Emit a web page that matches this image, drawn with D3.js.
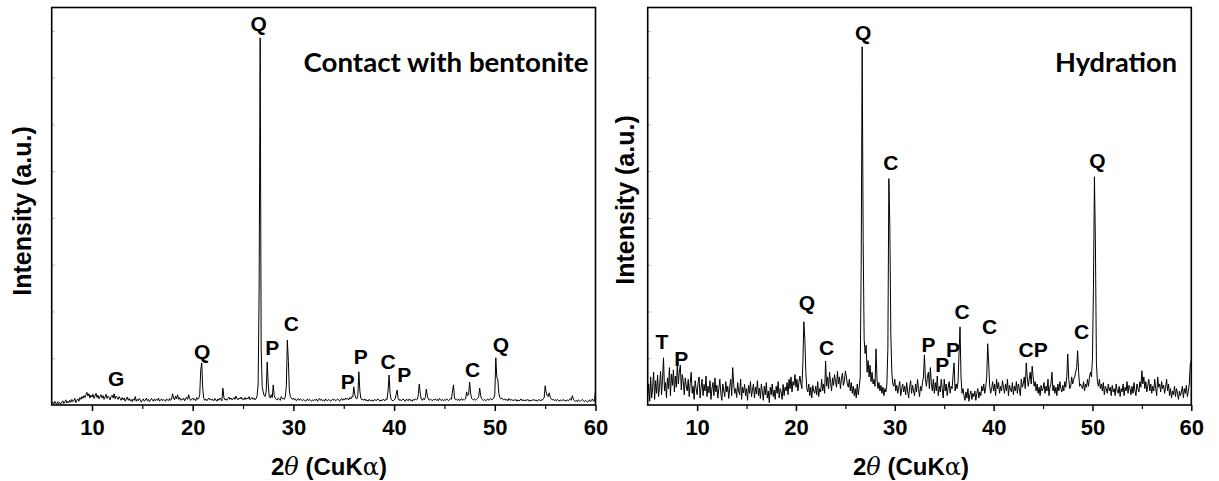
<!DOCTYPE html>
<html lang="en">

<head>
    <meta charset="UTF-8">
    <title>XRD patterns</title>
    <script src="https://d3js.org/d3.v7.min.js"></script>
    <style>
        body { margin: 0; background: #fff; }
        svg { display: block; }
    </style>
</head>

<body>
    <svg id="chart" width="1219" height="481"></svg>

    <script>
        // x axis ticks (2theta, degrees)
        var majorTicks = [10, 20, 30, 40, 50, 60];
        var minorTicks = [15, 25, 35, 45, 55];
        var stepDeg = 0.1;

        // "Contact with bentonite" pattern, 6.0 .. 60.0 deg, one value per 0.1 deg
        var bentoniteStart = 6;
        var bentoniteI = [
            3, 6, 2, 8, 4, 1, 7, 3, 5, 2,          // 6
            6, 9, 3, 7, 11, 4, 8, 5, 10, 6,        // 7
            12, 7, 9, 14, 5, 10, 13, 8, 16, 12,    // 8
            18, 14, 20, 16, 22, 27, 19, 24, 15, 21, // 9
            17, 23, 14, 19, 25, 16, 21, 13, 18, 22, // 10
            15, 20, 12, 17, 23, 14, 19, 16, 11, 18, // 11
            21, 15, 24, 13, 19, 16, 12, 18, 14, 10, // 12
            16, 11, 15, 8, 13, 17, 10, 14, 9, 12,  // 13
            7, 13, 10, 18, 8, 12, 9, 14, 11, 6,    // 14
            10, 13, 8, 11, 15, 9, 12, 7, 10, 14,   // 15
            11, 8, 13, 9, 12, 10, 15, 8, 11, 13,   // 16
            9, 12, 10, 8, 13, 11, 9, 14, 10, 12,   // 17
            24, 15, 11, 19, 13, 22, 12, 16, 10, 13, // 18
            11, 15, 9, 13, 17, 12, 22, 14, 10, 12, // 19
            15, 11, 13, 9, 16, 12, 14, 22, 75, 90, // 20
            35, 14, 10, 13, 9, 12, 15, 11, 13, 10, // 21
            12, 9, 14, 11, 8, 13, 10, 15, 12, 9,   // 22
            36, 16, 11, 13, 10, 14, 17, 12, 15, 11, // 23
            13, 16, 12, 19, 14, 11, 15, 13, 17, 12, // 24
            14, 11, 16, 12, 15, 13, 18, 11, 14, 16, // 25
            12, 15, 11, 14, 20, 45, 250, 785, 120, 40, // 26
            28, 20, 18, 30, 92, 45, 18, 15, 22, 16, // 27
            43, 20, 14, 12, 11, 15, 13, 10, 18, 14, // 28
            14, 12, 18, 40, 139, 95, 30, 18, 14, 12, // 29
            15, 11, 13, 9, 12, 14, 10, 13, 11, 9,  // 30
            12, 10, 8, 11, 13, 9, 12, 10, 8, 11,   // 31
            9, 12, 10, 13, 8, 11, 14, 10, 12, 9,   // 32
            11, 8, 13, 10, 9, 12, 10, 8, 11, 13,   // 33
            10, 12, 9, 11, 13, 10, 8, 12, 14, 10,  // 34
            13, 11, 15, 12, 14, 11, 16, 13, 18, 17, // 35
            39, 22, 15, 13, 20, 71, 30, 14, 11, 12, // 36
            10, 13, 9, 11, 8, 12, 10, 9, 11, 8,    // 37
            10, 12, 9, 11, 13, 10, 8, 11, 9, 12,   // 38
            11, 9, 13, 12, 30, 64, 25, 12, 10, 9,  // 39
            11, 13, 22, 32, 14, 10, 12, 9, 11, 13, // 40
            10, 8, 12, 11, 9, 13, 10, 11, 8, 12,   // 41
            10, 13, 11, 12, 20, 45, 24, 12, 10, 14, // 42
            11, 16, 34, 20, 12, 10, 13, 11, 9, 12, // 43
            11, 13, 10, 12, 9, 14, 11, 10, 12, 9,  // 44
            11, 10, 13, 12, 9, 11, 14, 12, 30, 43, // 45
            15, 11, 12, 10, 13, 9, 11, 14, 10, 12, // 46
            11, 13, 28, 20, 22, 49, 25, 14, 12, 11, // 47
            13, 10, 12, 14, 18, 36, 20, 13, 11, 10, // 48
            12, 9, 11, 13, 10, 12, 14, 11, 13, 15, // 49
            22, 101, 60, 54, 25, 16, 13, 15, 12, 11, // 50
            13, 10, 12, 9, 14, 11, 10, 12, 9, 11,  // 51
            10, 12, 8, 11, 9, 10, 13, 9, 11, 10,   // 52
            9, 11, 10, 12, 8, 10, 9, 11, 10, 12,   // 53
            9, 11, 8, 10, 12, 9, 11, 10, 13, 15,   // 54
            41, 28, 20, 18, 26, 17, 13, 11, 12, 10, // 55
            11, 9, 12, 10, 8, 11, 9, 10, 12, 9,    // 56
            10, 8, 11, 9, 12, 14, 10, 20, 13, 9,   // 57
            8, 10, 7, 11, 9, 8, 10, 12, 9, 7,      // 58
            10, 8, 6, 9, 11, 7, 10, 13, 8, 9,      // 59
            32                                     // 60
        ];

        // "Hydration" pattern, 5.0 .. 60.0 deg, one value per 0.1 deg
        var hydrationStart = 5;
        var hydrationI = [
            20, 45, 8, 60, 15, 38, 70, 12, 52, 25,   // 5
            64, 18, 40, 72, 22, 55, 101, 30, 48, 15, // 6
            58, 35, 80, 20, 66, 42, 75, 28, 62, 38,  // 7
            90, 45, 70, 85, 32, 65, 50, 22, 58, 40,  // 8
            30, 55, 18, 46, 70, 25, 40, 12, 52, 35,  // 9
            22, 48, 60, 15, 38, 55, 20, 44, 30, 62,  // 10
            18, 40, 26, 52, 12, 35, 48, 20, 58, 28,  // 11
            42, 15, 36, 55, 25, 10, 45, 30, 18, 50,  // 12
            28, 40, 14, 38, 55, 20, 80, 45, 25, 35,  // 13
            16, 48, 30, 22, 55, 12, 38, 26, 44, 20,  // 14
            35, 10, 42, 25, 50, 18, 32, 45, 15, 38,  // 15
            24, 52, 20, 36, 14, 45, 28, 10, 40, 22,  // 16
            48, 15, 30, 5, 38, 22, 45, 18, 32, 12,   // 17
            40, 25, 50, 15, 35, 28, 12, 44, 20, 38,  // 18
            30, 48, 22, 55, 35, 60, 28, 50, 42, 65,  // 19
            38, 55, 30, 48, 62, 45, 35, 90, 178, 140, // 20
            70, 35, 28, 45, 20, 38, 15, 42, 30, 25,  // 21
            40, 22, 50, 18, 35, 28, 55, 30, 45, 25,  // 22
            94, 40, 60, 35, 70, 48, 30, 58, 42, 65,  // 23
            50, 38, 72, 45, 60, 35, 55, 68, 42, 50,  // 24
            73, 60, 45, 38, 55, 30, 48, 25, 40, 20,  // 25
            35, 15, 45, 22, 38, 58, 300, 766, 350, 140, // 26
            110, 128, 70, 95, 60, 85, 50, 70, 45, 55, // 27
            40, 120, 55, 35, 48, 30, 42, 25, 38, 20, // 28
            35, 28, 45, 120, 484, 380, 150, 70, 45, 40, // 29
            55, 30, 42, 25, 38, 50, 20, 35, 45, 28,  // 30
            40, 22, 48, 30, 15, 38, 52, 25, 42, 30,  // 31
            20, 45, 28, 55, 35, 18, 40, 30, 48, 60,  // 32
            107, 55, 40, 60, 70, 35, 80, 45, 30, 55, // 33
            25, 48, 30, 62, 20, 40, 28, 55, 35, 15,  // 34
            55, 30, 45, 20, 38, 50, 25, 40, 35, 65,  // 35
            90, 30, 45, 35, 50, 110, 167, 60, 25, 35, // 36
            20, 10, 28, 15, 35, 8, 22, 30, 12, 25,   // 37
            18, 30, 10, 25, 35, 15, 28, 20, 40, 30,  // 38
            45, 25, 38, 60, 131, 90, 40, 25, 35, 50, // 39
            30, 45, 20, 55, 35, 48, 25, 40, 30, 52,  // 40
            38, 25, 45, 30, 55, 20, 42, 35, 28, 48,  // 41
            22, 40, 30, 50, 25, 45, 35, 20, 55, 38,  // 42
            45, 60, 35, 90, 60, 40, 55, 70, 45, 83,  // 43
            60, 40, 50, 30, 45, 25, 38, 20, 42, 30,  // 44
            35, 48, 25, 40, 30, 55, 20, 38, 45, 70,  // 45
            30, 42, 25, 38, 20, 45, 30, 50, 35, 28,  // 46
            42, 30, 50, 38, 60, 109, 55, 35, 40, 60, // 47
            45, 55, 60, 70, 80, 116, 70, 40, 45, 40, // 48
            35, 50, 30, 45, 38, 55, 40, 60, 70, 60,  // 49
            100, 250, 488, 342, 90, 50, 40, 55, 35, 45, // 50
            30, 48, 22, 40, 35, 25, 45, 30, 38, 20,  // 51
            42, 28, 35, 20, 45, 30, 25, 40, 18, 35,  // 52
            28, 45, 20, 38, 30, 50, 25, 42, 35, 22,  // 53
            40, 25, 48, 30, 20, 45, 35, 28, 50, 38,  // 54
            73, 45, 60, 35, 50, 28, 42, 55, 30, 45,  // 55
            25, 40, 30, 55, 35, 20, 60, 38, 45, 28,  // 56
            50, 35, 42, 25, 38, 55, 30, 45, 20, 35,  // 57
            15, 30, 22, 40, 18, 35, 25, 12, 30, 20,  // 58
            28, 40, 15, 35, 25, 42, 18, 30, 45, 88,  // 59
            95                                       // 60
        ];

        // phase labels: G gypsum, Q quartz, C calcite, P portlandite, T tobermorite
        var bentoniteLabels = ["G", "Q", "Q", "P", "C", "P", "P", "C", "P", "C", "Q"];
        var bentoniteLabelX = [12.4, 20.95, 26.55, 27.9, 29.8, 35.4, 36.7, 39.4, 41.0, 47.8, 50.6];
        var bentoniteLabelI = [41, 98, 800, 107, 158, 34, 88, 77, 49, 60, 113];

        var hydrationLabels = ["T", "P", "Q", "C", "Q", "C", "P", "P", "P", "C", "C", "CP", "C", "Q"];
        var hydrationLabelX = [6.45, 8.4, 21.1, 23.1, 26.8, 29.6, 33.4, 34.8, 35.9, 36.8, 39.6, 44.0, 48.9, 50.5];
        var hydrationLabelI = [120, 83, 203, 107, 781, 503, 113, 71, 103, 184, 152, 103, 141, 507];

        var svg = d3.select("#chart");
        var sans = "Arial, 'Liberation Sans', sans-serif";
        var plotTop = 7.5, plotBottom = 405;

        function drawPanel(p) {
            var x = d3.scaleLinear().domain(p.domain).range([p.left, p.right]);
            var y = d3.scaleLinear().domain([0, 850]).range([plotBottom, plotTop]);
            var g = svg.append("g");

            var pts = p.values.map(function (v, i) {
                return [p.start + i * stepDeg, v];
            });

            g.append("path")
                .datum(pts)
                .attr("fill", "none")
                .attr("stroke", "#000")
                .attr("stroke-width", 1)
                .attr("stroke-linejoin", "round")
                .attr("d", d3.line().x(function (d) { return x(d[0]); }).y(function (d) { return y(d[1]); }));

            // faint inner ticks on y axis
            var yAx = g.append("g")
                .attr("transform", "translate(" + p.left + ",0)")
                .call(d3.axisLeft(y).tickValues(d3.range(100, 850, 100)).tickSize(-3).tickFormat(""));
            yAx.select(".domain").remove();
            yAx.selectAll("line").attr("stroke", "#b0b0b0");

            // x axis
            var xAx = g.append("g")
                .attr("transform", "translate(0," + plotBottom + ")")
                .call(d3.axisBottom(x).tickValues(majorTicks).tickSize(6).tickSizeOuter(0).tickPadding(8).tickFormat(d3.format("d")));
            xAx.select(".domain").remove();
            xAx.selectAll("line").attr("stroke-width", 1.5);
            xAx.selectAll("text")
                .attr("font-family", sans)
                .attr("font-size", 22)
                .attr("font-weight", "bold")
                .attr("fill", "#000");

            var xMinor = g.append("g")
                .attr("transform", "translate(0," + plotBottom + ")")
                .call(d3.axisBottom(x).tickValues(minorTicks).tickSize(4).tickSizeOuter(0).tickFormat(""));
            xMinor.select(".domain").remove();
            xMinor.selectAll("line").attr("stroke-width", 1.2);

            // frame
            g.append("rect")
                .attr("x", p.left)
                .attr("y", plotTop)
                .attr("width", p.right - p.left)
                .attr("height", plotBottom - plotTop)
                .attr("fill", "none")
                .attr("stroke", "#000")
                .attr("stroke-width", 1.6);

            // peak labels
            g.selectAll(".peak")
                .data(p.labels)
                .join("text")
                .attr("class", "peak")
                .attr("x", function (d, i) { return x(p.labelX[i]); })
                .attr("y", function (d, i) { return y(p.labelI[i]); })
                .attr("text-anchor", "middle")
                .attr("font-family", sans)
                .attr("font-size", 21)
                .attr("font-weight", "bold")
                .text(function (d) { return d; });

            // panel title
            g.append("text")
                .attr("x", p.titleX)
                .attr("y", 72)
                .attr("text-anchor", "end")
                .attr("font-family", "Lato, 'Open Sans', sans-serif")
                .attr("font-weight", "bold")
                .attr("font-size", 27)
                .attr("textLength", p.titleLen)
                .attr("lengthAdjust", "spacingAndGlyphs")
                .text(p.title);

            // x axis title: 2θ (CuKα)
            var xt = g.append("text")
                .attr("x", p.xTitleX)
                .attr("y", 475)
                .attr("text-anchor", "middle")
                .attr("font-family", sans)
                .attr("font-size", 24)
                .attr("font-weight", "bold");
            xt.append("tspan").text("2");
            xt.append("tspan").text("θ")
                .attr("font-family", "'DejaVu Serif', serif")
                .attr("font-style", "italic")
                .attr("font-weight", "normal");
            xt.append("tspan").text(" (CuK");
            xt.append("tspan").text("α")
                .attr("font-family", "'DejaVu Serif', serif")
                .attr("font-weight", "normal");
            xt.append("tspan").text(")");

            // y axis title
            g.append("text")
                .attr("transform", "translate(" + p.yTitleX + "," + p.yTitleY + ") rotate(-90)")
                .attr("text-anchor", "middle")
                .attr("font-family", sans)
                .attr("font-size", 25)
                .attr("font-weight", "bold")
                .text("Intensity (a.u.)");
        }

        drawPanel({
            domain: [6, 60], left: 51.7, right: 595.5,
            start: bentoniteStart, values: bentoniteI,
            labels: bentoniteLabels, labelX: bentoniteLabelX, labelI: bentoniteLabelI,
            title: "Contact with bentonite", titleX: 588.5, titleLen: 285,
            xTitleX: 329, yTitleX: 31, yTitleY: 211
        });

        drawPanel({
            domain: [5, 60], left: 647.7, right: 1191.3,
            start: hydrationStart, values: hydrationI,
            labels: hydrationLabels, labelX: hydrationLabelX, labelI: hydrationLabelI,
            title: "Hydration", titleX: 1177, titleLen: 122,
            xTitleX: 911, yTitleX: 634, yTitleY: 200
        });
    </script>
</body>

</html>
